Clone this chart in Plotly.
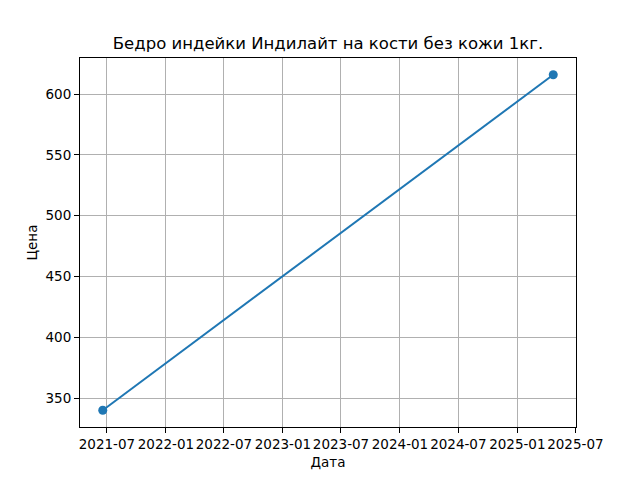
import plotly.graph_objects as go

dates = ["2021-06-18", "2025-04-23"]
prices = [340, 616]

x_ticks = ["2021-07-01", "2022-01-01", "2022-07-01", "2023-01-01", "2023-07-01",
           "2024-01-01", "2024-07-01", "2025-01-01", "2025-07-01"]
x_labels = ["2021-07", "2022-01", "2022-07", "2023-01", "2023-07",
            "2024-01", "2024-07", "2025-01", "2025-07"]
y_ticks = [350, 400, 450, 500, 550, 600]

fig = go.Figure()
fig.add_trace(go.Scatter(x=dates, y=prices, mode="lines+markers",
                         line=dict(color="#1f77b4", width=2),
                         marker=dict(color="#1f77b4", size=9)))

axis_style = dict(showline=True, linecolor="black", linewidth=1, mirror=True,
                  ticks="outside", ticklen=5, tickcolor="black",
                  showgrid=True, gridcolor="#b0b0b0", gridwidth=1,
                  zeroline=False, tickfont=dict(size=13.5, color="black"))

# page has an 8px body offset, so margins are shifted to compensate
fig.update_layout(
    width=640, height=480,
    paper_bgcolor="white", plot_bgcolor="white",
    font=dict(family="DejaVu Sans", color="black"),
    margin=dict(l=72, r=72, t=50, b=61),
    showlegend=False,
    title=dict(text="Бедро индейки Индилайт на кости без кожи 1кг.",
               x=0.5, xanchor="center", y=0.927, yanchor="middle",
               font=dict(size=16.5)),
    xaxis=dict(axis_style, range=["2021-04-08", "2025-07-03"],
               tickvals=x_ticks, ticktext=x_labels, tickangle=0, automargin=False,
               title=dict(text="Дата", font=dict(size=13.5), standoff=6)),
    yaxis=dict(axis_style, range=[326.2, 629.8], tickvals=y_ticks, automargin=False,
               title=dict(text="Цена", font=dict(size=13.5), standoff=4)),
)

fig.write_html("out.html")
